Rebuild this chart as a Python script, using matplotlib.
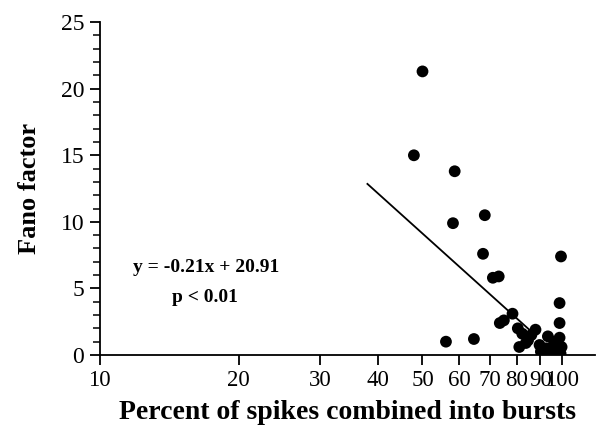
import matplotlib
matplotlib.use("Agg")
import matplotlib.pyplot as plt
from matplotlib.ticker import FixedLocator, MultipleLocator, NullFormatter

plt.rcParams['font.family'] = ['Liberation Serif', 'DejaVu Serif']

## burst percent vs fano factor
pct = [50.0, 47.9, 58.7, 58.2, 68.2, 67.6, 71.0, 73.1, 99.7, 99.0,
       99.0, 78.3, 73.5, 75.0, 56.2, 64.6, 80.4, 82.2, 87.8, 86.0,
       81.0, 83.7, 84.6, 93.4, 89.6, 92.7, 96.3, 98.0, 100.0, 95.0,
       90.2, 99.0, 97.5, 94.0, 99.5]
fano = [21.3, 15.0, 13.8, 9.9, 10.5, 7.6, 5.8, 5.9, 7.4, 3.9,
        2.4, 3.1, 2.4, 2.6, 1.0, 1.2, 2.0, 1.6, 1.9, 1.5,
        0.6, 0.9, 1.1, 1.4, 0.75, 0.5, 1.0, 0.25, 0.6, 0.1,
        0.25, 1.3, 0.8, 0.3, 0.1]

## regression line ends
fit_x = [38, 88]
fit_y = [12.85, 1.45]

xticks = [10, 20, 30, 40, 50, 60, 70, 80, 90, 100]
xticklabels = ['10', '20', '30', '40', '50', '60', '70', '80', '90', '100']

fig = plt.figure(figsize=(5.96, 4.26), dpi=100)
ax = fig.add_axes([0.167, 0.1667, 0.831, 0.7813])

ax.plot(fit_x, fit_y, 'k-', lw=1.3)
ax.scatter(pct, fano, s=72, c='black', edgecolors='none', zorder=3)

ax.set_xscale('log')
ax.set_xlim(10, 118)
ax.set_ylim(0, 25)
ax.xaxis.set_major_locator(FixedLocator(xticks))
ax.set_xticklabels(xticklabels)
ax.xaxis.set_minor_formatter(NullFormatter())
ax.xaxis.set_minor_locator(FixedLocator([]))
ax.yaxis.set_major_locator(MultipleLocator(5))
ax.yaxis.set_minor_locator(MultipleLocator(1))

for s in ['top', 'right']:
    ax.spines[s].set_visible(False)
ax.spines['left'].set_linewidth(1.3)
ax.spines['bottom'].set_linewidth(1.3)
ax.tick_params(axis='both', which='major', direction='out', length=7, width=1.3,
               labelsize=17, pad=4)
ax.tick_params(axis='x', which='major', labelsize=16.5)
ax.tick_params(axis='y', which='minor', direction='out', length=5, width=1.1)

ax.set_xlabel('Percent of spikes combined into bursts', fontsize=20, fontweight='bold',
              labelpad=6)
ax.set_ylabel('Fano factor', fontsize=19, fontweight='bold', labelpad=14)

ax.text(0.215, 0.264, 'y = -0.21x + 20.91', transform=ax.transAxes, fontsize=14,
        fontweight='bold', ha='center', va='center')
ax.text(0.213, 0.174, 'p < 0.01', transform=ax.transAxes, fontsize=14,
        fontweight='bold', ha='center', va='center')

fig.savefig('out.png', dpi=100)
